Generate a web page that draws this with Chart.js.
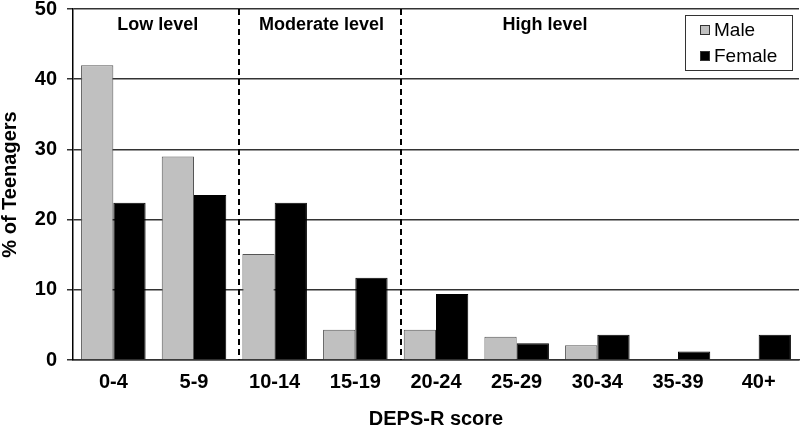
<!DOCTYPE html>
<html>
<head>
<meta charset="utf-8">
<script src="https://cdn.jsdelivr.net/npm/chart.js@4/dist/chart.umd.min.js"></script>
<style>
  html, body { margin: 0; padding: 0; background: #fff; }
  #wrap { width: 800px; height: 426px; }
</style>
</head>
<body>
<div id="wrap"><canvas id="chart" width="800" height="426"></canvas></div>
<script>
// --- data ---
const categories = ['0-4', '5-9', '10-14', '15-19', '20-24', '25-29', '30-34', '35-39', '40+'];
const maleValues = [42, 29, 15.1, 4.3, 4.3, 3.3, 2.1, 0, 0];
const femaleValues = [22.4, 23.5, 22.4, 11.7, 9.4, 2.4, 3.6, 1.2, 3.6];
const yTicks = [0, 10, 20, 30, 40, 50];

// severity bands (positions in category units)
const levelNames = ['Low level', 'Moderate level', 'High level'];
const levelCenters = [0.55, 2.58, 5.35];
const dividers = [1.56, 3.56];

const FONT = '"Liberation Sans", Arial, sans-serif';

// dashed dividers, band names and the boxed legend
const extras = {
    id: 'extras',
    afterDatasetsDraw(chart) {
        const ctx = chart.ctx;
        const area = chart.chartArea;
        const x = chart.scales.x;

        ctx.save();
        ctx.strokeStyle = '#000';
        ctx.lineWidth = 2;
        ctx.setLineDash([6, 4]);
        dividers.forEach(d => {
            const px = Math.round(x.getPixelForValue(d));
            ctx.beginPath();
            ctx.moveTo(px, area.top);
            ctx.lineTo(px, area.bottom);
            ctx.stroke();
        });
        ctx.setLineDash([]);

        ctx.fillStyle = '#000';
        ctx.font = 'bold 18px ' + FONT;
        ctx.textAlign = 'center';
        ctx.textBaseline = 'middle';
        levelNames.forEach((name, i) => {
            ctx.fillText(name, x.getPixelForValue(levelCenters[i]), area.top + 16);
        });

        // legend box
        const bx = area.right - 114, by = area.top + 6, bw = 107, bh = 55;
        ctx.fillStyle = '#fff';
        ctx.fillRect(bx, by, bw, bh);
        ctx.strokeStyle = '#333';
        ctx.lineWidth = 1;
        ctx.strokeRect(bx + 0.5, by + 0.5, bw, bh);
        ctx.font = '19px ' + FONT;
        ctx.textAlign = 'left';
        chart.data.datasets.forEach((ds, i) => {
            const cy = by + 15 + i * 26;
            ctx.fillStyle = ds.backgroundColor;
            ctx.fillRect(bx + 15, cy - 5, 10, 10);
            ctx.strokeStyle = '#333';
            ctx.strokeRect(bx + 15.5, cy - 4.5, 9, 9);
            ctx.fillStyle = '#000';
            ctx.fillText(ds.label, bx + 29, cy + 1);
        });
        ctx.restore();
    }
};

new Chart(document.getElementById('chart'), {
    type: 'bar',
    data: {
        labels: categories,
        datasets: [{
            label: 'Male',
            data: maleValues,
            backgroundColor: '#c0c0c0',
            borderColor: '#555',
            borderWidth: 1,
            categoryPercentage: 0.8,
            barPercentage: 1.0
        }, {
            label: 'Female',
            data: femaleValues,
            backgroundColor: '#000',
            borderColor: '#000',
            borderWidth: 1,
            categoryPercentage: 0.8,
            barPercentage: 1.0
        }]
    },
    options: {
        responsive: false,
        animation: false,
        devicePixelRatio: 1,
        layout: { padding: { top: 9, right: 1, left: 0, bottom: 0 } },
        plugins: {
            legend: { display: false },
            tooltip: { enabled: false }
        },
        scales: {
            x: {
                grid: { display: false },
                border: { display: true, color: '#333', width: 1.5 },
                ticks: { color: '#000', font: { family: FONT, size: 20, weight: 'bold', lineHeight: 1 }, padding: 4 },
                title: {
                    display: true, text: 'DEPS-R score', color: '#000',
                    font: { family: FONT, size: 20, weight: 'bold', lineHeight: 0.7 },
                    padding: { top: 0, bottom: 0 }
                },
                afterFit(scale) {
                    scale.height = 66;
                    scale.paddingLeft = 0;
                    scale.paddingRight = 0;
                }
            },
            y: {
                min: 0, max: 50,
                afterBuildTicks(scale) { scale.ticks = yTicks.map(v => ({ value: v })); },
                grid: { color: '#333', lineWidth: 1.5, tickLength: 6 },
                border: { display: true, color: '#000', width: 1.5 },
                ticks: { color: '#000', font: { family: FONT, size: 20, weight: 'bold' }, padding: 10 },
                title: {
                    display: true, text: '% of Teenagers', color: '#000',
                    font: { family: FONT, size: 20, weight: 'bold', lineHeight: 1 },
                    padding: { top: 0, bottom: 0 }
                },
                afterFit(scale) {
                    scale.width = 73;
                    scale.paddingTop = 0;
                    scale.paddingBottom = 0;
                }
            }
        }
    },
    plugins: [extras]
});
</script>
</body>
</html>
